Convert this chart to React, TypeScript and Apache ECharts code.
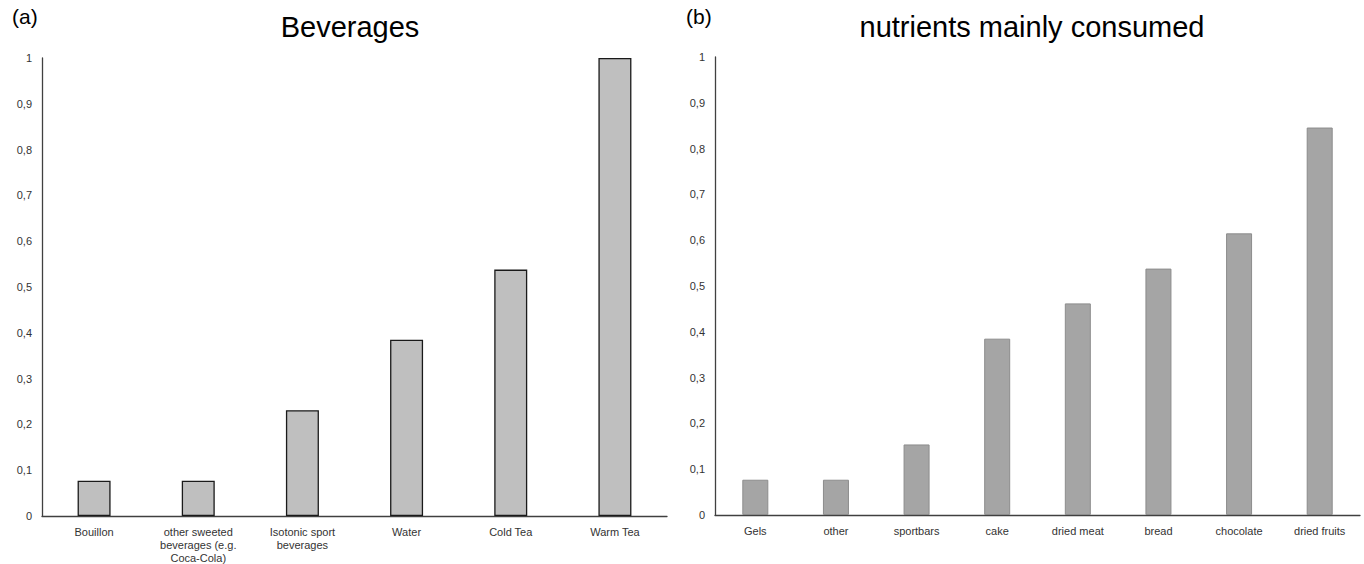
import React, { useEffect, useRef } from "react";
import * as echarts from "echarts";

const bevCategories = [
  "Bouillon",
  "other sweeted\nbeverages (e.g.\nCoca-Cola)",
  "Isotonic sport\nbeverages",
  "Water",
  "Cold Tea",
  "Warm Tea",
];
const bevValues = [0.077, 0.077, 0.231, 0.385, 0.538, 1];

const nutCategories = [
  "Gels",
  "other",
  "sportbars",
  "cake",
  "dried meat",
  "bread",
  "chocolate",
  "dried fruits",
];
const nutValues = [0.077, 0.077, 0.154, 0.385, 0.462, 0.538, 0.615, 0.846];

const titleA = "Beverages";
const titleB = "nutrients mainly consumed";

const FONT = "'Liberation Sans', Arial, sans-serif";

export default function App() {
  const ref = useRef<HTMLDivElement>(null);
  useEffect(() => {
    document.body.style.margin = "0";
    const chart = echarts.init(ref.current!, null, { renderer: "svg" });
    const yAxisCommon = {
      type: "value" as const,
      min: 0,
      max: 1,
      interval: 0.1,
      axisLine: { show: true, lineStyle: { color: "#404040", width: 1.3 } },
      axisTick: { show: false },
      splitLine: { show: false },
      axisLabel: {
        fontFamily: FONT,
        fontSize: 11,
        color: "#333",
        margin: 10,
        formatter: (v: number) => String(Math.round(v * 10) / 10).replace(".", ","),
      },
    };
    const xAxisCommon = {
      type: "category" as const,
      axisLine: { show: true, lineStyle: { color: "#404040", width: 1.3 } },
      axisTick: { show: false },
      axisLabel: {
        fontFamily: FONT,
        fontSize: 11,
        color: "#333",
        margin: 9,
        lineHeight: 13,
        interval: 0,
      },
    };
    chart.setOption({
      animation: false,
      title: [
        {
          text: titleA,
          left: 345,
          top: 7,
          textAlign: "center",
          textStyle: { fontFamily: FONT, fontSize: 29, fontWeight: "normal", color: "#000" },
        },
        {
          text: titleB,
          left: 1027,
          top: 7,
          textAlign: "center",
          textStyle: { fontFamily: FONT, fontSize: 29, fontWeight: "normal", color: "#000" },
        },
        {
          text: "(a)",
          left: 7,
          top: 1,
          textStyle: { fontFamily: FONT, fontSize: 21, fontWeight: "normal", color: "#000" },
        },
        {
          text: "(b)",
          left: 681,
          top: 1,
          textStyle: { fontFamily: FONT, fontSize: 21, fontWeight: "normal", color: "#000" },
        },
      ],
      grid: [
        { left: 42, right: 697, top: 58, bottom: 46 },
        { left: 715, right: 4, top: 57, bottom: 49 },
      ],
      xAxis: [
        { ...xAxisCommon, gridIndex: 0, data: bevCategories },
        { ...xAxisCommon, gridIndex: 1, data: nutCategories },
      ],
      yAxis: [
        { ...yAxisCommon, gridIndex: 0 },
        { ...yAxisCommon, gridIndex: 1 },
      ],
      series: [
        {
          type: "bar",
          xAxisIndex: 0,
          yAxisIndex: 0,
          data: bevValues,
          barWidth: 33,
          itemStyle: { color: "#bfbfbf", borderColor: "#1a1a1a", borderWidth: 1.3 },
        },
        {
          type: "bar",
          xAxisIndex: 1,
          yAxisIndex: 1,
          data: nutValues,
          barWidth: 26,
          itemStyle: { color: "#a5a5a5", borderColor: "#8c8c8c", borderWidth: 1 },
        },
      ],
    });
    return () => chart.dispose();
  }, []);
  return <div ref={ref} style={{ width: 1364, height: 564 }} />;
}
